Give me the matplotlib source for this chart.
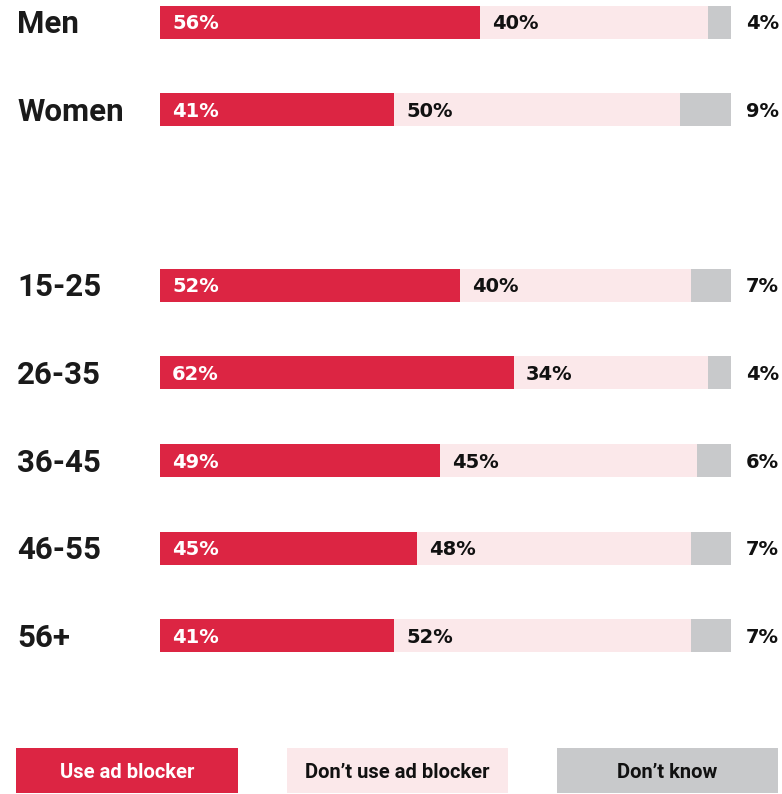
import matplotlib.pyplot as plt
import matplotlib.transforms as mtransforms
from matplotlib.patches import Rectangle

groups = ['Men', 'Women', '15-25', '26-35', '36-45', '46-55', '56+']
rows = [0, 1, 3, 4, 5, 6, 7]          # blank row between gender and age
use_blocker = [56, 41, 52, 62, 49, 45, 41]
no_blocker = [40, 50, 40, 34, 45, 48, 52]
dont_know = [4, 9, 7, 4, 6, 7, 7]
legend_labels = ['Use ad blocker', 'Don\u2019t use ad blocker', 'Don\u2019t know']

red = '#dc2543'
pink = '#fbe8ea'
grey = '#c8c9cb'

W, H = 782, 794
fig = plt.figure(figsize=(W / 100, H / 100), dpi=100)
plt.rcParams['font.family'] = ['Roboto', 'DejaVu Sans']

ax = fig.add_axes([160 / W, 94 / H, 571 / W, 700 / H])
ax.set_xlim(0, 100)
ax.set_ylim(7.73, -0.251)
ax.axis('off')

# rounded shares don't always add to 100, so scale each row to a full bar
tot = [a + b + c for a, b, c in zip(use_blocker, no_blocker, dont_know)]
s1 = [a / t * 100 for a, t in zip(use_blocker, tot)]
s2 = [b / t * 100 for b, t in zip(no_blocker, tot)]
s3 = [c / t * 100 for c, t in zip(dont_know, tot)]
left3 = [a + b for a, b in zip(s1, s2)]

bh = 0.376
ax.barh(rows, s1, height=bh, color=red, linewidth=0)
ax.barh(rows, s2, left=s1, height=bh, color=pink, linewidth=0)
ax.barh(rows, s3, left=left3, height=bh, color=grey, linewidth=0)

pad = 12 / 571 * 100
lab_tr = mtransforms.blended_transform_factory(fig.transFigure, ax.transData)
val_kw = dict(fontsize=14, fontweight='bold', va='baseline', family='DejaVu Sans')
for r, g, a, b, c, x1 in zip(rows, groups, use_blocker, no_blocker, dont_know, s1):
    ax.text(17 / W, r + 0.127, g, transform=lab_tr, fontsize=22.5, fontweight='bold',
            color='#1a1a1a', va='baseline', ha='left')
    ax.text(pad, r + 0.08, f'{a}%', color='white', ha='left', **val_kw)
    ax.text(x1 + pad, r + 0.08, f'{b}%', color='#111111', ha='left', **val_kw)
    ax.text(779 / W, r + 0.08, f'{c}%', transform=lab_tr, color='#111111',
            ha='right', **val_kw)

# legend boxes along the bottom
boxes = [(16, 238, red, 'white'), (287, 508, pink, '#111111'), (557, 778, grey, '#111111')]
for (x0, x1, fc, tc), lab in zip(boxes, legend_labels):
    fig.patches.append(Rectangle((x0 / W, 1 - 793 / H), (x1 - x0) / W, 45 / H,
                                 transform=fig.transFigure, facecolor=fc, linewidth=0))
    fig.text((x0 + x1) / 2 / W, 1 - 778 / H, lab, color=tc, fontsize=14.5,
             fontweight='bold', ha='center', va='baseline')

fig.savefig('out.png', dpi=100)
